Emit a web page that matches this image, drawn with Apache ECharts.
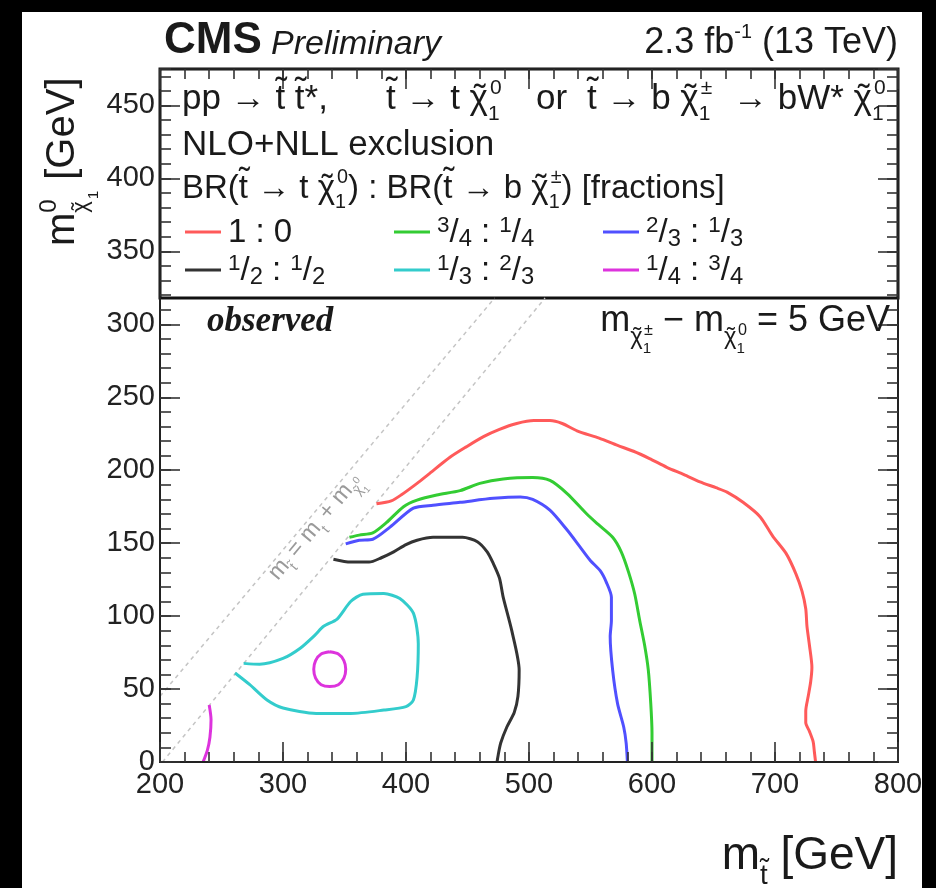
<!DOCTYPE html>
<html><head><meta charset="utf-8">
<script src="https://cdn.jsdelivr.net/npm/echarts@6/dist/echarts.min.js"></script>
<style>html,body{margin:0;padding:0;background:#fff}#c{width:936px;height:888px}</style>
</head><body><div id="c"></div>
<script>
// ---------------- data ----------------
const xTicks = [200, 300, 400, 500, 600, 700, 800];
const yTicks = [0, 50, 100, 150, 200, 250, 300, 350, 400, 450];
const br_1_0 = [[376,177],[388,179],[396,183],[409,191],[418,197],[436,209],[449,216],[463,223],[476,228],[490,232],[504,234],[517,234],[527,232],[539,227],[557,222],[572,217],[585,213],[598,208],[612,202],[626,197],[639,192],[652,188],[661,185],[674,178],[688,168],[698,155],[709,143],[717,129],[722,117],[725,105],[726,93],[728,80],[730,65],[729,55],[727,45],[725,35],[725,27],[728,21],[731,14],[732,7],[733,0]];
const br_34_14 = [[354,154],[362,155.5],[373,157],[384,164],[398,175],[409,179.5],[425,183],[444,186],[460,191],[479,194],[503,195],[517,193],[531,184],[547,170],[556,163],[568,154],[575,144],[581,130],[586,115],[590,97],[594,80],[597,63],[599,40],[600,20],[600,0]];
const br_23_13 = [[351,149.5],[362,152],[373,152.7],[387,161],[406,174],[422,176],[444,178],[471,180.7],[493,181.7],[503,180],[517,172.6],[531,159],[541,148],[550,138],[558,131],[563,123],[567,113],[567,97],[566,86],[568,63],[572,40],[577,24],[579,13],[580,0]];
const br_12_12 = [[341,139],[355,137],[370,137],[380,140],[390,144],[400,149],[409,152],[422,154],[446,154],[458,151],[466,144],[471,136],[476,126],[479,113],[486,90],[492,63],[491,45],[488,34],[482,24],[477,13],[475,5],[474,0]];
const br_13_23 = [[268,67.6],[281,67],[300,71],[314,78],[326,87],[333,93],[344,98],[355,110],[365,115],[382,115.5],[395,112],[406,102],[410,81],[409,58],[406,42.5],[400,38],[382,35.6],[355,33.3],[327,33.3],[300,37],[287,42.5],[273,53],[261,61]];
const br_14_34_island = [[338,75.5],[345,74],[349.5,69.5],[351,63.5],[349.5,57.5],[345,53],[338,51.7],[331,53],[326.5,57.5],[325,63.5],[326.5,69.5],[331,74],[338,75.5]];
const br_14_34_edge = [[240,39],[241.5,29],[240.6,17],[238.5,8],[235,0]];
const diagLeft = [[200,45],[472,318]];
const diagRight = [[202,0],[513,318]];
// ----------------------------------------------------------------

const FAM = '"Liberation Sans", Arial, Helvetica, sans-serif';
const SERIF = '"Liberation Serif", "Times New Roman", serif';
const mctx = document.createElement('canvas').getContext('2d');
function fontStr(size, o) { return (o.italic ? 'italic ' : '') + (o.bold ? 'bold ' : '') + size.toFixed(2) + 'px ' + (o.family || FAM); }
function tw(t, size, o) { mctx.font = fontStr(size, o); return mctx.measureText(t).width; }
// part types: string | {t,k,dy,dx} | {st:[...]} | {acc: base-char, k, dy, lift}
const sup = (t, k, dy, dx) => ({t, k: k || 0.62, dy: dy == null ? -0.42 : dy, dx: dx || 0});
const sub = (t, k, dy, dx) => ({t, k: k || 0.62, dy: dy == null ? 0.25 : dy, dx: dx || 0});
const st = (...a) => ({st: a});
const til = (c, k, dy, lift) => ({acc: c, k: k || 1, dy: dy || 0, lift: lift == null ? (c === 't' ? 0.2 : 0.0) : lift});
function pushPart(items, p, x, size, o) {
  if (typeof p === 'string') { items.push({t: p, dx: x, dy: 0, size}); return tw(p, size, o); }
  if (p.st) {
    let adv = 0;
    for (const q of p.st) { const a = pushPart(items, q, x + (q.dx || 0) * size, size, o); adv = Math.max(adv, (q.dx || 0) * size + a); }
    return adv;
  }
  const s2 = size * p.k;
  const ox = (p.dx || 0) * size;
  if (p.acc) {
    const w = tw(p.acc, s2, o), wt = tw('\u02dc', s2, o);
    items.push({t: p.acc, dx: x + ox, dy: p.dy * size, size: s2});
    items.push({t: '\u02dc', dx: x + ox + (w - wt) / 2 + 0.03 * s2, dy: p.dy * size - p.lift * s2, size: s2});
    return ox + w;
  }
  items.push({t: p.t, dx: x + ox, dy: p.dy * size, size: s2});
  return ox + tw(p.t, s2, o);
}
function layout(parts, size, o) {
  let x = 0; const items = [];
  for (const p of parts) x += pushPart(items, p, x, size, o);
  return {items, width: x};
}
function mathText(x, y, parts, size, o) {
  o = o || {};
  const L = layout(parts, size, o);
  const x0 = o.align === 'right' ? x - L.width : (o.align === 'center' ? x - L.width / 2 : x);
  return L.items.map(it => ({
    type: 'text', x: x0 + it.dx, y: y + it.dy - 0.35 * it.size, z: 100, silent: true,
    style: {text: it.t, font: fontStr(it.size, o), fill: o.color || '#1a1a1a',
            align: 'left', textAlign: 'left', verticalAlign: 'middle', textVerticalAlign: 'middle'}
  }));
}
const tT = til('t'), tChi = til('\u03c7');
const chiSS = (a, b) => st(sup(a, 0.6, -0.46, 0.03), sub(b, 0.6, 0.28, 0.0));

const RED = '#ff5a5a', GREEN = '#33cc33', BLUE = '#5050ff', BLACK = '#333333', CYAN = '#33cccc', MAG = '#dd33dd';

const graphics = [];
// black frame of the photo
graphics.push({type: 'rect', shape: {x: 0, y: 0, width: 22, height: 888}, style: {fill: '#000'}, z: 200});
graphics.push({type: 'rect', shape: {x: 922, y: 0, width: 14, height: 888}, style: {fill: '#000'}, z: 200});
graphics.push({type: 'rect', shape: {x: 0, y: 0, width: 936, height: 12}, style: {fill: '#000'}, z: 200});
// legend box
graphics.push({type: 'rect', shape: {x: 160, y: 69, width: 738, height: 229}, style: {fill: '#fff', stroke: '#111', lineWidth: 3}, z: 1});

// header
graphics.push(...mathText(164, 56, ['CMS'], 44, {bold: true}));
graphics.push(...mathText(271, 56, ['Preliminary'], 34, {italic: true}));
graphics.push(...mathText(898, 56, ['2.3 fb', sup('-1', 0.55, -0.45), ' (13 TeV)'], 36, {align: 'right'}));

// legend header lines
const LS = 35;
graphics.push(...mathText(182, 112, ['pp \u2192 ', tT, ' ', tT, '*,'], LS));
graphics.push(...mathText(386, 112, [tT, ' \u2192 t ', tChi, chiSS('0', '1')], LS));
graphics.push(...mathText(536, 112, ['or'], LS));
graphics.push(...mathText(587, 112, [tT, ' \u2192 b ', tChi, chiSS('\u00b1', '1')], LS));
graphics.push(...mathText(733, 112, ['\u2192 bW* ', tChi, chiSS('0', '1')], LS));
graphics.push(...mathText(182, 158, ['NLO+NLL exclusion'], LS));
graphics.push(...mathText(182, 200, ['BR(', tT, ' \u2192 t ', tChi, chiSS('0', '1'), ') : BR(', tT, ' \u2192 b ', tChi, chiSS('\u00b1', '1'), ') [fractions]'], 33));

// legend entries
const fr = (a, b) => [sup(a, 0.68, -0.3), '/', sub(b, 0.72, 0.12)];
const entries = [
  {c: RED, x: 185, y: 232, label: ['1 : 0']},
  {c: GREEN, x: 394, y: 232, label: [...fr('3', '4'), ' : ', ...fr('1', '4')]},
  {c: BLUE, x: 603, y: 232, label: [...fr('2', '3'), ' : ', ...fr('1', '3')]},
  {c: BLACK, x: 185, y: 270, label: [...fr('1', '2'), ' : ', ...fr('1', '2')]},
  {c: CYAN, x: 394, y: 270, label: [...fr('1', '3'), ' : ', ...fr('2', '3')]},
  {c: MAG, x: 603, y: 270, label: [...fr('1', '4'), ' : ', ...fr('3', '4')]}
];
for (const e of entries) {
  graphics.push({type: 'line', shape: {x1: e.x, y1: e.y, x2: e.x + 36, y2: e.y}, style: {stroke: e.c, lineWidth: 3}, z: 100});
  graphics.push(...mathText(e.x + 43, e.y + 12, e.label, 33));
}

// annotations inside plot
graphics.push(...mathText(207, 334, ['observed'], 35, {bold: true, italic: true, family: SERIF}));
const tinySS = (a, b) => st({t: a, k: 0.45, dy: 0.05, dx: 0.02}, {t: b, k: 0.42, dy: 0.55, dx: 0.0});
graphics.push(...mathText(890, 334, ['m', til('\u03c7', 0.66, 0.32), tinySS('\u00b1', '1'), ' \u2212 m', til('\u03c7', 0.66, 0.32), tinySS('0', '1'), ' = 5 GeV'], 36, {align: 'right'}));

// axis titles
graphics.push({type: 'group', x: 77, y: 246, rotation: Math.PI / 2, z: 100,
  children: mathText(0, 0, ['m', st(sup('0', 0.6, -0.48), til('\u03c7', 0.55, 0.3)), sub('1', 0.38, 0.55), ' [GeV]'], 40)});
graphics.push(...mathText(898, 872, ['m', til('t', 0.6, 0.3), ' [GeV]'], 46, {align: 'right'}));

// diagonal label
graphics.push({type: 'group', x: 279, y: 582, rotation: 50 * Math.PI / 180, z: 100,
  children: mathText(0, 0, ['m', til('t', 0.6, 0.3), ' = m', sub('t', 0.6, 0.3), ' + m', til('\u03c7', 0.6, 0.3), st({t: '0', k: 0.45, dy: -0.1}, {t: '1', k: 0.4, dy: 0.5})], 23, {color: '#9a9a9a'})});

const tickStyle = {color: '#333', width: 1.6};
function xAx(pos, interval, len, labels) {
  return {type: 'value', min: 200, max: 800, interval, position: pos, z: 5,
    axisLine: {show: true, onZero: false, lineStyle: {color: '#222', width: 2}},
    axisTick: {show: true, inside: true, length: len, lineStyle: tickStyle},
    axisLabel: labels ? {show: true, fontSize: 29, color: '#222', fontFamily: FAM, margin: 8,
      formatter: v => xTicks.includes(v) ? String(v) : ''} : {show: false},
    splitLine: {show: false}};
}
function yAx(pos, interval, len, labels) {
  return {type: 'value', min: 0, max: 475, interval, position: pos, z: 5,
    axisLine: {show: true, onZero: false, lineStyle: {color: '#222', width: 2}},
    axisTick: {show: true, inside: true, length: len, lineStyle: tickStyle},
    axisLabel: labels ? {show: true, fontSize: 29, color: '#222', fontFamily: FAM, margin: 5, showMaxLabel: false,
      formatter: v => yTicks.includes(v) ? String(v) : ''} : {show: false},
    splitLine: {show: false}};
}
function ser(data, color, extra) {
  return Object.assign({type: 'line', data, xAxisIndex: 0, yAxisIndex: 0, showSymbol: false, symbol: 'none',
    smooth: 0.25, lineStyle: {color, width: 3}, z: 3, silent: true, clip: true}, extra || {});
}
const dashed = {lineStyle: {color: '#c4c4c4', width: 1.5, type: [4, 4]}, smooth: false, z: 2};

const chart = echarts.init(document.getElementById('c'), null, {renderer: 'canvas'});
chart.setOption({
  animation: false,
  backgroundColor: '#fff',
  grid: {left: 160, top: 69, width: 738, height: 693, show: false},
  xAxis: [xAx('bottom', 100, 20, true), xAx('bottom', 20, 10, false), xAx('top', 100, 20, false), xAx('top', 20, 10, false)],
  yAxis: [yAx('left', 50, 20, true), yAx('left', 10, 11, false), yAx('right', 50, 20, false), yAx('right', 10, 11, false)],
  series: [
    ser(diagLeft, '#c4c4c4', dashed),
    ser(diagRight, '#c4c4c4', dashed),
    ser(br_1_0, RED),
    ser(br_34_14, GREEN),
    ser(br_23_13, BLUE),
    ser(br_12_12, BLACK),
    ser(br_13_23, CYAN),
    ser(br_14_34_island, MAG),
    ser(br_14_34_edge, MAG)
  ],
  graphic: {elements: graphics}
});
</script></body></html>
